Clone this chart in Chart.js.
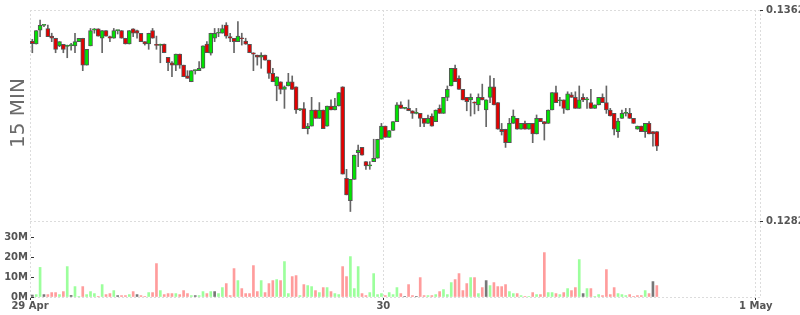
<!DOCTYPE html>
<html>
<head>
<meta charset="utf-8">
<script src="https://cdn.jsdelivr.net/npm/chart.js@4.4.0/dist/chart.umd.min.js"></script>
<style>
    html, body { margin: 0; padding: 0; background: #fff; }
    #wrap { width: 800px; height: 315px; position: relative; }
</style>
</head>
<body>
<div id="wrap"><canvas id="myChart"></canvas></div>
<script>
// 15 min candles, slot 0 = 29 Apr 00:00
var first_slot = 5;
var day_ticks = [0, 96, 192];
var day_labels = ['29 Apr', '30', '1 May'];
var price_ticks = [0.1282, 0.1362];
var volume_ticks = [0, 10, 20, 30];

var open_px = [
    .13502,.13491,.13544,.13562,.13550,.13521,.13513,.13484,.13490,.13482,
    .13485,.13484,.13500,.13513,.13411,.13484,.13544,.13549,.13513,.13542,
    .13519,.13513,.13542,.13542,.13513,.13491,.13549,.13542,.13532,.13500,
    .13491,.13542,.13489,.13486,.13491,.13441,.13420,.13411,.13453,.13411,
    .13370,.13348,.13390,.13390,.13399,.13491,.13456,.13513,.13532,.13532,
    .13563,.13519,.13513,.13500,.13514,.13502,.13490,.13458,.13449,.13441,
    .13449,.13430,.13380,.13332,.13348,.13319,.13332,.13348,.13329,.13241,
    .13246,.13170,.13180,.13241,.13209,.13241,.13180,.13256,.13241,.13256,
    .13329,.12982,.12897,.12978,.13079,.13099,.13045,.13029,.13045,.13058,
    .13130,.13180,.13137,.13163,.13197,.13260,.13247,.13247,.13238,.13228,
    .13228,.13209,.13190,.13218,.13197,.13247,.13228,.13289,.13332,.13399,
    .13361,.13319,.13289,.13279,.13270,.13260,.13289,.13241,.13289,.13329,
    .13269,.13168,.13168,.13117,.13190,.13209,.13168,.13190,.13168,.13190,
    .13150,.13209,.13197,.13190,.13241,.13307,.13276,.13279,.13241,.13298,
    .13289,.13247,.13289,.13279,.13269,.13247,.13260,.13289,.13269,.13241,
    .13228,.13159,.13209,.13228,.13228,.13209,.13168,.13180,.13159,.13190,
    .13159,.13159
];
var high_px = [
    .13509,.13542,.13582,.13564,.13563,.13532,.13513,.13500,.13490,.13487,
    .13494,.13532,.13513,.13513,.13471,.13550,.13550,.13549,.13542,.13542,
    .13521,.13550,.13544,.13542,.13513,.13542,.13549,.13544,.13532,.13500,
    .13532,.13550,.13521,.13491,.13491,.13441,.13424,.13453,.13453,.13411,
    .13390,.13390,.13393,.13424,.13484,.13500,.13532,.13550,.13550,.13563,
    .13572,.13532,.13513,.13576,.13532,.13513,.13490,.13458,.13449,.13458,
    .13449,.13430,.13399,.13367,.13348,.13332,.13380,.13370,.13329,.13246,
    .13269,.13190,.13289,.13241,.13269,.13241,.13256,.13279,.13285,.13307,
    .13329,.13016,.12978,.13070,.13108,.13099,.13045,.13045,.13130,.13130,
    .13190,.13180,.13163,.13197,.13269,.13272,.13250,.13279,.13238,.13247,
    .13228,.13209,.13222,.13226,.13241,.13260,.13289,.13332,.13399,.13411,
    .13370,.13319,.13289,.13302,.13272,.13302,.13339,.13279,.13370,.13361,
    .13269,.13190,.13168,.13209,.13241,.13209,.13190,.13199,.13190,.13190,
    .13222,.13209,.13197,.13241,.13307,.13332,.13289,.13279,.13310,.13307,
    .13310,.13332,.13302,.13289,.13319,.13260,.13289,.13302,.13332,.13247,
    .13228,.13209,.13241,.13247,.13247,.13209,.13180,.13180,.13190,.13197,
    .13159,.13159
];
var low_px = [
    .13458,.13491,.13519,.13557,.13519,.13500,.13458,.13481,.13458,.13439,
    .13468,.13458,.13500,.13390,.13411,.13484,.13532,.13521,.13458,.13521,
    .13500,.13513,.13529,.13513,.13491,.13491,.13519,.13513,.13500,.13487,
    .13471,.13513,.13471,.13420,.13458,.13390,.13367,.13390,.13399,.13367,
    .13361,.13348,.13377,.13390,.13399,.13458,.13449,.13500,.13519,.13532,
    .13513,.13500,.13458,.13500,.13487,.13490,.13458,.13390,.13411,.13399,
    .13430,.13361,.13348,.13276,.13302,.13247,.13332,.13319,.13228,.13238,
    .13170,.13150,.13180,.13209,.13209,.13170,.13180,.13241,.13241,.13256,
    .12998,.12919,.12856,.12978,.13026,.13070,.13016,.13016,.13045,.13058,
    .13130,.13137,.13137,.13163,.13197,.13247,.13245,.13238,.13209,.13226,
    .13178,.13178,.13190,.13180,.13197,.13228,.13228,.13276,.13332,.13348,
    .13319,.13279,.13238,.13218,.13226,.13238,.13279,.13178,.13269,.13260,
    .13168,.13146,.13099,.13117,.13190,.13168,.13168,.13168,.13168,.13117,
    .13150,.13197,.13127,.13190,.13241,.13269,.13256,.13228,.13241,.13289,
    .13247,.13247,.13272,.13247,.13247,.13247,.13260,.13269,.13228,.13218,
    .13146,.13137,.13209,.13218,.13209,.13190,.13168,.13159,.13137,.13150,
    .13104,.13087
];
var close_px = [
    .13492,.13542,.13562,.13562,.13519,.13513,.13471,.13500,.13471,.13485,
    .13485,.13500,.13513,.13411,.13471,.13542,.13549,.13521,.13542,.13521,
    .13513,.13542,.13542,.13513,.13491,.13542,.13532,.13532,.13500,.13491,
    .13532,.13513,.13486,.13489,.13458,.13420,.13411,.13453,.13411,.13367,
    .13361,.13390,.13390,.13399,.13484,.13458,.13532,.13532,.13534,.13550,
    .13521,.13513,.13500,.13521,.13511,.13490,.13458,.13453,.13441,.13449,
    .13430,.13380,.13348,.13367,.13319,.13329,.13348,.13319,.13241,.13246,
    .13170,.13180,.13241,.13209,.13241,.13170,.13256,.13241,.13256,.13307,
    .12998,.12919,.12978,.13070,.13089,.13070,.13029,.13031,.13058,.13130,
    .13180,.13137,.13163,.13197,.13260,.13247,.13247,.13238,.13228,.13228,
    .13209,.13190,.13209,.13180,.13241,.13228,.13289,.13319,.13399,.13348,
    .13319,.13279,.13272,.13289,.13267,.13289,.13279,.13279,.13329,.13260,
    .13168,.13159,.13117,.13190,.13218,.13168,.13190,.13168,.13190,.13150,
    .13209,.13197,.13188,.13241,.13307,.13269,.13276,.13247,.13302,.13289,
    .13247,.13279,.13279,.13281,.13247,.13260,.13289,.13269,.13241,.13218,
    .13168,.13199,.13228,.13230,.13209,.13190,.13180,.13159,.13190,.13150,
    .13150,.13104
];
// millions
var volume_m = [
    1.0,1.2,14.8,1.2,1.2,2.2,2.2,1.2,2.7,15.2,
    0.8,5.2,0.3,5.2,1.2,2.7,1.7,0.3,6.2,1.2,
    1.7,3.2,0.7,0.7,0.7,1.2,2.7,1.2,0.7,0.3,
    2.2,2.2,16.7,3.2,1.2,1.7,1.7,1.7,1.2,3.2,
    1.7,0.7,0.7,0.7,2.7,1.7,2.7,2.7,1.7,4.7,
    6.7,0.7,14.2,8.2,4.2,1.7,1.7,15.7,2.7,8.2,
    2.2,6.7,8.2,8.7,8.2,17.7,1.7,10.2,10.7,0.7,
    6.2,5.7,5.2,3.2,2.2,4.7,4.7,2.7,1.7,1.2,
    15.2,10.2,20.2,4.2,15.2,1.7,0.7,2.2,11.7,1.2,
    1.7,0.7,2.2,1.2,4.7,1.7,0.3,6.2,0.7,0.2,
    9.7,0.7,0.7,0.7,1.2,2.7,3.7,1.2,7.2,8.7,
    11.7,3.2,6.7,9.7,9.7,1.7,4.7,8.2,5.7,7.2,
    5.2,5.2,6.2,2.7,1.7,1.7,0.7,0.2,0.2,2.2,
    1.2,1.2,22.2,2.2,2.2,1.7,1.2,2.2,4.2,3.2,
    4.7,18.7,1.7,4.2,4.2,0.2,1.2,0.7,13.7,1.2,
    4.7,1.7,1.2,0.7,1.2,0.3,0.7,0.7,3.2,1.7,
    7.7,5.7
];

var label_font = { family: 'DejaVu Sans', size: 10, weight: 'bold' };
var grid_color = '#dcdcdc';

// "15 MIN" caption and the small volume tick dashes
var side_label = {
    id: 'side_label',
    afterDraw: function (chart) {
        var ctx = chart.ctx;
        ctx.save();
        ctx.fillStyle = '#6a6a6a';
        ctx.font = '20px "DejaVu Sans"';
        ctx.translate(24, 113);
        ctx.rotate(-Math.PI / 2);
        ctx.textAlign = 'center';
        ctx.fillText('15 MIN', 0, 0);
        ctx.restore();

        var s = chart.scales.yVol;
        ctx.save();
        ctx.fillStyle = '#333';
        s.ticks.forEach(function (t) {
            ctx.fillRect(31, Math.round(s.getPixelForValue(t.value)), 3, 1);
        });
        ctx.restore();
    }
};

function init() {
    Chart.defaults.font.family = 'DejaVu Sans';
    var ctx = document.getElementById('myChart').getContext('2d');
    return new Chart(ctx, make_config());
}

function make_datasets() {
    var bodies = [], wicks = [], vols = [];
    var body_colors = [], vol_colors = [];
    for (var i = 0; i < open_px.length; i++) {
        var x = first_slot + i + 0.5;
        bodies.push({ x: x, y: [open_px[i], close_px[i]] });
        wicks.push({ x: x, y: [low_px[i], high_px[i]] });
        vols.push({ x: x, y: volume_m[i] });
        body_colors.push(close_px[i] >= open_px[i] ? '#00e400' : '#e40000');
        var prev = i > 0 ? close_px[i - 1] : close_px[i];
        if (close_px[i] > prev) {
            vol_colors.push('#9cff9c');
        } else if (close_px[i] < prev) {
            vol_colors.push('#ff9c9c');
        } else {
            vol_colors.push('#777777');
        }
    }
    return [
        {
            label: 'body', data: bodies, yAxisID: 'yPrice',
            backgroundColor: body_colors, borderColor: '#555', borderWidth: 1,
            borderSkipped: false, barThickness: 4, minBarLength: 1,
            grouped: false, order: 0
        },
        {
            label: 'wick', data: wicks, yAxisID: 'yPrice',
            backgroundColor: '#666', borderWidth: 0, barThickness: 1,
            grouped: false, order: 1
        },
        {
            label: 'volume', data: vols, yAxisID: 'yVol',
            backgroundColor: vol_colors, borderWidth: 0, barThickness: 2,
            grouped: false, order: 2
        }
    ];
}

function make_config() {
    // price panel takes 211 of the 287 px plot height, volume the rest
    var price_span = price_ticks[1] - price_ticks[0];
    var price_min = price_ticks[0] - price_span * 76 / 211;

    return {
        type: 'bar',
        data: { datasets: make_datasets() },
        options: {
            responsive: true,
            maintainAspectRatio: false,
            animation: false,
            devicePixelRatio: 1,
            layout: { padding: { top: 10, left: 0, right: 0, bottom: 0 } },
            scales: {
                x: {
                    type: 'linear', position: 'bottom',
                    min: 4.9, max: 193.1, offset: false,
                    afterBuildTicks: function (s) {
                        var t = day_ticks.map(function (v) { return { value: Math.max(v, s.min) }; });
                        t.push({ value: s.max });
                        s.ticks = t;
                    },
                    afterFit: function (s) { s.height = 18; },
                    grid: {
                        color: grid_color, offset: false, tickLength: 3,
                        tickColor: function (c) { return c.index < day_ticks.length ? '#333' : 'transparent'; }
                    },
                    border: { display: false, dash: [2, 2] },
                    ticks: {
                        autoSkip: false, maxRotation: 0, padding: 0,
                        color: '#555', font: label_font,
                        callback: function (v, i) { return day_labels[i] || ''; }
                    }
                },
                yPrice: {
                    type: 'linear', position: 'right',
                    min: price_min, max: price_ticks[1],
                    afterBuildTicks: function (s) {
                        s.ticks = price_ticks.map(function (v) { return { value: v }; });
                    },
                    afterFit: function (s) { s.width = 40; },
                    grid: { color: grid_color, tickColor: '#333', tickLength: 3 },
                    border: { display: false, dash: [2, 2] },
                    ticks: {
                        padding: 3, color: '#555', font: label_font,
                        callback: function (v) { return v.toFixed(4); }
                    }
                },
                yVol: {
                    type: 'linear', position: 'left',
                    min: 0, max: 143.5,
                    afterBuildTicks: function (s) {
                        s.ticks = volume_ticks.map(function (v) { return { value: v }; });
                    },
                    afterFit: function (s) { s.width = 30; },
                    grid: {
                        drawTicks: false,
                        color: function (c) { return c.tick && c.tick.value === 0 ? grid_color : 'transparent'; }
                    },
                    border: { display: false, dash: [2, 2] },
                    ticks: {
                        padding: 2, color: '#555', font: label_font,
                        callback: function (v) { return v + 'M'; }
                    }
                }
            },
            plugins: {
                legend: { display: false },
                tooltip: { enabled: false }
            }
        },
        plugins: [side_label]
    };
}

var chart = init();
</script>
</body>
</html>
